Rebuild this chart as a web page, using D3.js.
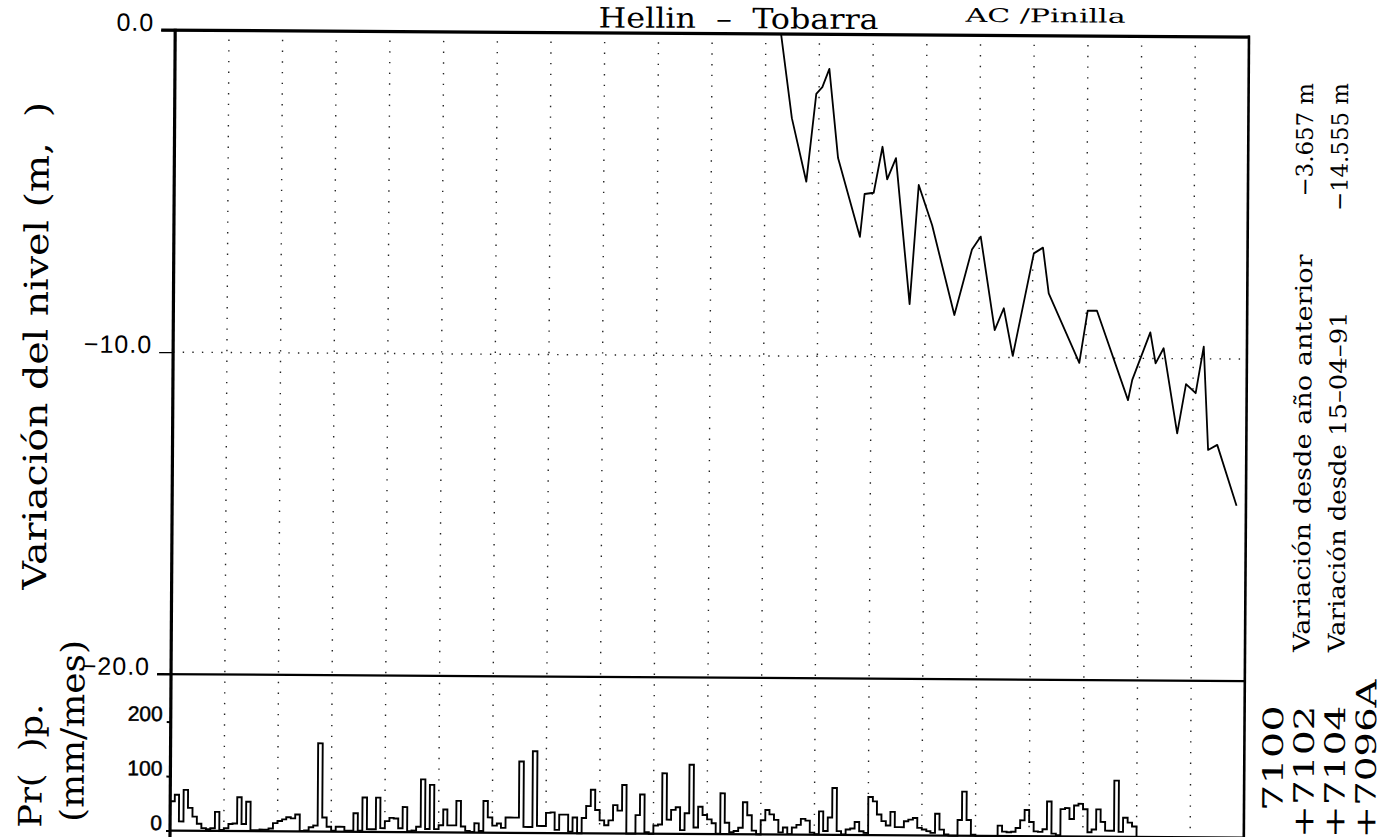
<!DOCTYPE html>
<html>
<head>
<meta charset="utf-8">
<script src="https://cdn.jsdelivr.net/npm/d3@7"></script>
<style>
  html, body { margin: 0; padding: 0; background: #fff; }
  svg { display: block; }
</style>
</head>
<body>
<svg id="chart" width="1388" height="837"></svg>
<script>
// Monthly precipitation (mm/mes), January 1980 to December 1997
const precipStart = "1980-01-01";
const precipMm = [
  54, 66, 17, 75, 42, 26, 13,  5,  3,  5, 35,  2,   // 1980
   5, 13, 14, 62, 13, 54,  2,  2,  3,  3,  5, 15,   // 1981
  19, 22, 26, 24, 31,  1,  2,  8, 11,162, 26,  9,   // 1982
   2,  9,  9,  2,  2, 34,  2, 63,  5,  5, 63,  7,   // 1983
  20, 26, 25,  7, 46,  2,  3, 10, 97,  6, 87,  6,   // 1984
  13, 42, 13, 13, 58, 11,  3,  1, 17,  3, 58, 28,   // 1985
  13, 17,  9, 28, 28, 28,131, 11, 11,150, 13, 13,   // 1986
  37, 38,  6, 34, 34,  3, 29,  0, 28, 50, 80, 43,   // 1987
  24, 15, 24, 52, 42, 89,  0,  0, 34, 72,  3,  0,   // 1988
  15, 17,111, 26, 44, 49,  7, 38,127, 12, 50, 35,   // 1989
  27, 20,  1, 75, 21,  4,  6, 12, 59, 35,  7,  0,   // 1990
  26, 45, 37, 27,  4, 13,  1, 13, 18, 29, 26,  4,   // 1991
   1, 43,  7, 32, 86,  7,  1, 10, 12, 24,  7,  4,   // 1992
  70, 62, 38, 26, 18, 43, 15, 15, 26, 29, 32, 14,   // 1993
  11,  8,  5, 40, 11,  2,  0,  0, 29, 81, 29,  2,   // 1994
   0,  0,  0,  0,  0, 19,  8,  7,  8, 15, 29, 48,   // 1995
  26,  9,  8, 13, 64,  5,  2, 50, 52, 32, 57, 60,   // 1996
  50,  8, 13, 50, 27, 11, 11,103,  9, 35, 26, 19    // 1997
];

// Water level readings: variation (m) relative to 15-04-91
const levelDates = [
  "1991-04-15", "1991-07-01", "1991-10-10", "1991-12-13", "1992-01-23",
  "1992-03-10", "1992-05-12", "1992-10-11", "1992-11-10", "1993-01-11",
  "1993-03-10", "1993-04-12", "1993-06-10", "1993-09-17", "1993-11-13",
  "1994-02-14", "1994-07-19", "1994-11-13", "1995-01-11", "1995-04-20",
  "1995-06-20", "1995-08-22", "1996-01-08", "1996-03-10", "1996-04-20",
  "1996-11-17", "1997-01-11", "1997-03-15", "1997-10-16", "1997-11-13",
  "1998-03-14", "1998-04-20", "1998-06-13", "1998-09-17", "1998-11-14",
  "1999-01-19", "1999-03-13", "1999-04-16", "1999-06-17", "1999-10-29"
];
const levelValues = [
   0.00,  -2.61,  -4.58,  -1.85,  -1.64,
  -1.07,  -3.84,  -6.28,  -4.95,  -4.91,
  -3.48,  -4.49,  -3.83,  -8.36,  -4.66,
  -5.91,  -8.69,  -6.65,  -6.25,  -9.15,
  -8.47,  -9.95,  -6.76,  -6.58,  -8.00,
 -10.15,  -8.53,  -8.53, -11.30, -10.67,
  -9.19, -10.15,  -9.68, -12.32, -10.79,
 -11.07,  -9.62, -12.83, -12.67, -14.555
];

// Axis ticks and annotations
const levelTicks = [0, -10, -20];
const levelTickLabels = ["0.0", "\u221210.0", "\u221220.0"];
const precipTicks = [0, 100, 200];
const precipTickLabels = ["0", "100", "200"];
const titleText = "Hellin  \u2013  Tobarra";
const subTitleText = "AC /Pinilla";
const levelAxisTitle = "Variaci\u00f3n del nivel (m,  )";
const precipAxisTitle = ["Pr(  )p.", "(mm/mes)"];
const summaryLabels = ["Variaci\u00f3n desde a\u00f1o anterior", "Variaci\u00f3n desde 15\u201304\u201391"];
const summaryValues = ["\u22123.657 m", "\u221214.555 m"];
const wellCodes = ["7100", "+7102", "+7104", "+7096A"];

// ---------------------------------------------------------------
const parse = d3.utcParse("%Y-%m-%d");
const svg = d3.select("#chart");
svg.append("rect").attr("width", 1388).attr("height", 837).attr("fill", "#fff");

// the plotted sheet sits slightly skewed on the page
const g = svg.append("g").attr("transform", "rotate(0.37 694 418)");

const plotL = 172.7, plotR = 1246.5, plotT = 33.5, plotMid = 677.5, plotB = 834;

const x = d3.scaleUtc()
  .domain([parse("1980-01-01"), parse("2000-01-01")])
  .range([plotL, plotR]);
const yLevel = d3.scaleLinear().domain([0, -20]).range([plotT, plotMid]);
const yPrecip = d3.scaleLinear().domain([0, 300]).range([plotB, plotB - 163.5]);

const serif = "'DejaVu Serif', 'Liberation Serif', serif";
const sans = "'Liberation Sans', Arial, sans-serif";

// yearly dotted grid
const years = d3.utcYear.range(parse("1981-01-01"), parse("2000-01-01"));
g.append("g").selectAll("line").data(years).join("line")
  .attr("x1", d => x(d)).attr("x2", d => x(d))
  .attr("y1", plotT + 9).attr("y2", plotB)
  .attr("stroke", "#222").attr("stroke-width", 1.4)
  .attr("stroke-dasharray", "1.4 9.3");

// dotted line at -10 m
g.append("line")
  .attr("x1", plotL).attr("x2", plotR)
  .attr("y1", yLevel(-10)).attr("y2", yLevel(-10))
  .attr("stroke", "#222").attr("stroke-width", 1.4)
  .attr("stroke-dasharray", "1.4 8.2");

// level axis
const levelAxis = g.append("g")
  .attr("transform", `translate(${plotL},0)`)
  .call(d3.axisLeft(yLevel).tickValues(levelTicks)
    .tickSize(14).tickPadding(7)
    .tickFormat((d, i) => levelTickLabels[i]));
levelAxis.select(".domain").remove();
levelAxis.selectAll(".tick line").attr("stroke", "#000").attr("stroke-width", 1.3);
levelAxis.selectAll(".tick text")
  .attr("dy", "0.02em").attr("fill", "#000")
  .style("font-family", sans).style("font-size", "25px")
  .style("letter-spacing", "1px");

// precipitation axis
const precipAxis = g.append("g")
  .attr("transform", `translate(${plotL},0)`)
  .call(d3.axisLeft(yPrecip).tickValues(precipTicks)
    .tickSize(4).tickPadding(4)
    .tickFormat((d, i) => precipTickLabels[i]));
precipAxis.select(".domain").remove();
precipAxis.selectAll(".tick line").attr("stroke", "#000").attr("stroke-width", 2);
precipAxis.selectAll(".tick text")
  .attr("dy", "-0.05em").attr("fill", "#000")
  .attr("stroke", "#000").attr("stroke-width", 0.5)
  .style("font-family", sans).style("font-size", "21px");

// frame
const frame = g.append("g").attr("stroke", "#000").attr("fill", "none");
frame.append("line").attr("x1", plotL - 14).attr("x2", plotR + 1)
  .attr("y1", yLevel(0)).attr("y2", yLevel(0)).attr("stroke-width", 3.2);
frame.append("line").attr("x1", plotL - 14).attr("x2", plotR)
  .attr("y1", yLevel(-20)).attr("y2", yLevel(-20)).attr("stroke-width", 2.2);
frame.append("line").attr("x1", plotL).attr("x2", plotL)
  .attr("y1", plotT - 1.5).attr("y2", 850).attr("stroke-width", 3.2);
frame.append("line").attr("x1", plotR).attr("x2", plotR)
  .attr("y1", plotT - 1.5).attr("y2", 850).attr("stroke-width", 2.6);
frame.append("line").attr("x1", plotL).attr("x2", plotR)
  .attr("y1", yPrecip(0)).attr("y2", yPrecip(0)).attr("stroke-width", 2.2);

// precipitation histogram (step outline)
const start = parse(precipStart);
const months = precipMm.map((v, i) => ({ date: d3.utcMonth.offset(start, i), v }));
const stepPts = [{ date: start, v: 0 }, ...months,
  { date: d3.utcMonth.offset(start, precipMm.length), v: 0 }];
g.append("path")
  .datum(stepPts)
  .attr("fill", "none").attr("stroke", "#000").attr("stroke-width", 1.9)
  .attr("stroke-linejoin", "miter")
  .attr("d", d3.line().x(d => x(d.date)).y(d => yPrecip(d.v)).curve(d3.curveStepAfter));

// water level line
const level = levelDates.map((d, i) => ({ date: parse(d), v: levelValues[i] }));
g.append("path")
  .datum(level)
  .attr("fill", "none").attr("stroke", "#000").attr("stroke-width", 1.8)
  .attr("stroke-linejoin", "round")
  .attr("d", d3.line().x(d => x(d.date)).y(d => yLevel(d.v)));

// titles
g.append("text").text(titleText)
  .attr("x", 596).attr("y", 28)
  .attr("textLength", 280).attr("lengthAdjust", "spacingAndGlyphs")
  .style("white-space", "pre")
  .style("font-family", serif).style("font-size", "28px");
g.append("text").text(subTitleText)
  .attr("x", 963).attr("y", 20)
  .attr("textLength", 160).attr("lengthAdjust", "spacingAndGlyphs")
  .style("font-family", serif).style("font-size", "19px");

// rotated text helper
function vtext(str, bx, by, size, len, anchor) {
  const t = g.append("text").text(str)
    .attr("transform", `translate(${bx},${by}) rotate(-90)`)
    .attr("text-anchor", anchor || "start")
    .style("font-family", serif).style("font-size", size + "px")
    .style("white-space", "pre");
  if (len) t.attr("textLength", len).attr("lengthAdjust", "spacingAndGlyphs");
  return t;
}

vtext(levelAxisTitle, 47, 594, 33, 488);
vtext(precipAxisTitle[0], 44, 832, 32, 124);
vtext(precipAxisTitle[1], 86, 826, 33, 182);

summaryLabels.forEach((s, i) => {
  vtext(s, 1311 + i * 35, 648, 23, s.length * 14.2);
  vtext(summaryValues[i], 1311 + i * 35, 79, 23, summaryValues[i].length * 14.2, "end");
});

const codeW = 26.5;
wellCodes.forEach((s, i) => {
  const pad = s.startsWith("+") ? 0 : codeW;
  vtext(s, 1285 + i * 31, 834 - pad, 28, s.length * codeW);
});
</script>
</body>
</html>
